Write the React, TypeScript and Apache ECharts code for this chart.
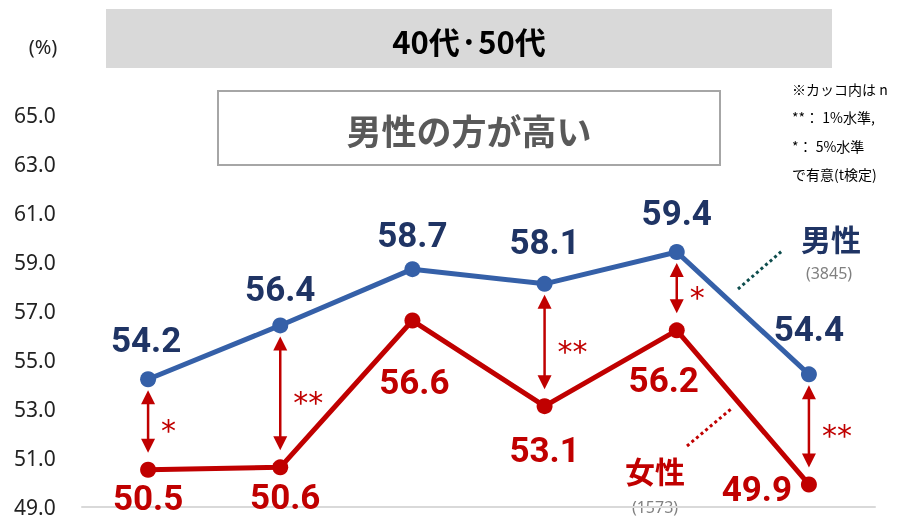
import React, { useEffect, useRef } from "react";
import * as echarts from "echarts";

const categories = ["項目1", "項目2", "項目3", "項目4", "項目5", "項目6"];
const maleValues = [54.2, 56.4, 58.7, 58.1, 59.4, 54.4];
const femaleValues = [50.5, 50.6, 56.6, 53.1, 56.2, 49.9];
const significance = ["*", "**", "", "**", "*", "**"];
const yTicks = { min: 49, max: 65, interval: 2 };
const maleName = "男性";
const femaleName = "女性";
const maleN = "(3845)";
const femaleN = "(1573)";
const titleText = "40代·50代";
const claimText = "男性の方が高い";
const noteLines = ["※カッコ内は n", "**： 1%水準,", "*： 5%水準", "で有意(t検定)"];

// label offsets (layout only)
const maleLabelOffsets = [[-2, -39], [0, -36], [0, -34], [0, -41], [0, -39], [0, -45]];
const femaleLabelOffsets = [[0, 29], [5, 30], [2, 62], [0, 44], [-13, 50], [-52, 5]];

const RED = "#C00000";
const BLUE = "#3560A8";
const NAVY = "#1F3464";
const NUM_FONT = "Roboto";
const JP_FONT = '"Noto Sans CJK JP"';

export default function App() {
  const ref = useRef<HTMLDivElement>(null);
  useEffect(() => {
    if (!ref.current) return;
    const chart = echarts.init(ref.current, undefined, { renderer: "svg" });

    const makeData = (vals: number[], offs: number[][]) =>
      vals.map((v, i) => ({
        value: v,
        label: { offset: offs[i] },
      }));

    const arrowData = categories
      .map((c, i) => [i, maleValues[i], femaleValues[i], significance[i]])
      .filter((d) => d[3] !== "");

    const numLabel = (color: string) => ({
      show: true,
      position: "inside",
      color,
      fontSize: 35,
      lineHeight: 28,
      fontWeight: "bold",
      fontFamily: NUM_FONT,
      formatter: (p: any) => p.value.toFixed(1),
    });

    const option: any = {
      animation: false,
      grid: { left: 82, right: 22, top: 115, bottom: 9 },
      xAxis: {
        type: "category",
        data: categories,
        boundaryGap: true,
        axisLine: { show: true, lineStyle: { color: "#D9D9D9", width: 2 } },
        axisTick: { show: false },
        axisLabel: { show: false },
        splitLine: { show: false },
      },
      yAxis: {
        type: "value",
        min: yTicks.min,
        max: yTicks.max,
        interval: yTicks.interval,
        axisLine: { show: false },
        axisTick: { show: false },
        splitLine: { show: false },
        axisLabel: {
          formatter: (v: number) => v.toFixed(1),
          align: "left",
          margin: 68,
          fontSize: 21,
          lineHeight: 16,
          color: "#222",
          fontFamily: "Noto Sans",
        },
      },
      series: [
        {
          type: "line",
          name: maleName,
          data: makeData(maleValues, maleLabelOffsets),
          symbol: "circle",
          symbolSize: 16,
          lineStyle: { color: BLUE, width: 5 },
          itemStyle: { color: BLUE },
          z: 3,
          label: numLabel(NAVY),
        },
        {
          type: "line",
          name: femaleName,
          data: makeData(femaleValues, femaleLabelOffsets),
          symbol: "circle",
          symbolSize: 16,
          lineStyle: { color: RED, width: 5 },
          itemStyle: { color: RED },
          z: 3,
          label: numLabel(RED),
        },
        {
          type: "custom",
          name: "significance",
          data: arrowData,
          encode: { x: 0, y: [1, 2] },
          z: 2,
          renderItem: (params: any, api: any) => {
            const i = api.value(0);
            const top = api.coord([i, api.value(1)]);
            const bot = api.coord([i, api.value(2)]);
            const sig = arrowData[params.dataIndex][3] as string;
            const x = top[0];
            const y1 = top[1] + 11;
            const y2 = bot[1] - 17;
            const hw = 7;
            const hl = 14;
            return {
              type: "group",
              children: [
                {
                  type: "line",
                  shape: { x1: x, y1: y1 + hl - 2, x2: x, y2: y2 - hl + 2 },
                  style: { stroke: RED, lineWidth: 2.5 },
                },
                {
                  type: "polygon",
                  shape: { points: [[x, y1], [x - hw, y1 + hl], [x + hw, y1 + hl]] },
                  style: { fill: RED },
                },
                {
                  type: "polygon",
                  shape: { points: [[x, y2], [x - hw, y2 - hl], [x + hw, y2 - hl]] },
                  style: { fill: RED },
                },
                {
                  type: "text",
                  style: {
                    text: sig,
                    x: x + 13,
                    y: (top[1] + bot[1]) / 2 + 6,
                    fill: RED,
                    font: '30px "DejaVu Sans"',
                    textAlign: "left",
                    textVerticalAlign: "middle",
                  },
                },
              ],
            };
          },
        },
      ],
      graphic: [
        {
          type: "rect",
          shape: { x: 106, y: 9, width: 726, height: 59 },
          style: { fill: "#D9D9D9" },
        },
        {
          type: "text",
          style: {
            text: titleText,
            x: 469,
            y: 40,
            fill: "#000",
            font: `bold 31px ${JP_FONT}`,
            textAlign: "center",
            textVerticalAlign: "middle",
          },
        },
        {
          type: "text",
          style: {
            text: "(%)",
            x: 43,
            y: 46,
            fill: "#222",
            font: '20px "Noto Sans"',
            textAlign: "center",
            textVerticalAlign: "middle",
          },
        },
        {
          type: "rect",
          shape: { x: 218, y: 91, width: 502, height: 74 },
          style: { fill: "#fff", stroke: "#A6A6A6", lineWidth: 2 },
        },
        {
          type: "text",
          style: {
            text: claimText,
            x: 469,
            y: 129,
            fill: "#595959",
            font: `bold 35px ${JP_FONT}`,
            textAlign: "center",
            textVerticalAlign: "middle",
          },
        },
        ...noteLines.map((t, k) => ({
          type: "text",
          style: {
            text: t,
            x: 792,
            y: [89, 117, 146, 174][k],
            fill: "#000",
            font: `14px ${JP_FONT}`,
            textAlign: "left",
            textVerticalAlign: "middle",
          },
        })),
        {
          type: "line",
          shape: { x1: 738, y1: 289, x2: 782, y2: 251 },
          style: { stroke: "#0E4D4D", lineWidth: 3, lineDash: [3, 3] },
        },
        {
          type: "text",
          style: {
            text: maleName,
            x: 831,
            y: 238,
            fill: NAVY,
            font: `bold 30px ${JP_FONT}`,
            textAlign: "center",
            textVerticalAlign: "middle",
          },
        },
        {
          type: "text",
          style: {
            text: maleN,
            x: 829,
            y: 273,
            fill: "#808080",
            font: '16px "Noto Sans"',
            textAlign: "center",
            textVerticalAlign: "middle",
          },
        },
        {
          type: "line",
          shape: { x1: 687, y1: 446, x2: 731, y2: 409 },
          style: { stroke: RED, lineWidth: 3, lineDash: [3, 3] },
        },
        {
          type: "text",
          style: {
            text: femaleName,
            x: 655,
            y: 470,
            fill: RED,
            font: `bold 30px ${JP_FONT}`,
            textAlign: "center",
            textVerticalAlign: "middle",
          },
        },
        {
          type: "text",
          style: {
            text: femaleN,
            x: 655,
            y: 507,
            fill: "#808080",
            font: '16px "Noto Sans"',
            textAlign: "center",
            textVerticalAlign: "middle",
          },
        },
      ],
    };
    chart.setOption(option);
    return () => chart.dispose();
  }, []);
  return (
    <div
      ref={ref}
      style={{ position: "fixed", left: 0, top: 0, width: 897, height: 517 }}
    />
  );
}
